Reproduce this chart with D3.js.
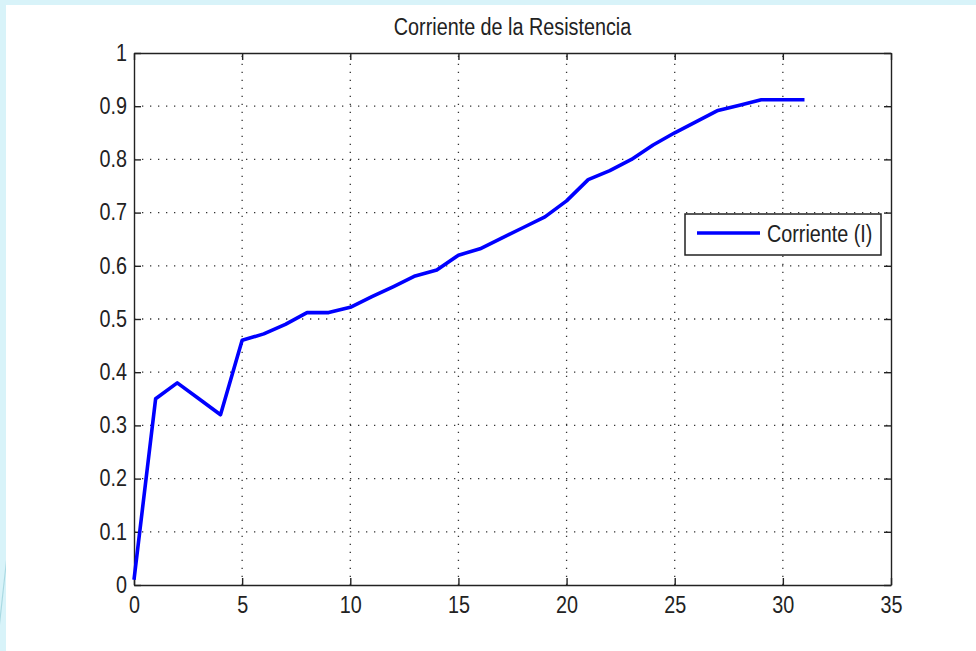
<!DOCTYPE html>
<html>
<head>
<meta charset="utf-8">
<script src="https://cdn.jsdelivr.net/npm/d3@7"></script>
<style>
  body { margin: 0; background: #fff; }
  text { font-family: "Liberation Sans", Arial, sans-serif; fill: #222; transform-box: fill-box; }
  .narrow-c { transform-origin: center; transform: scaleX(0.86); }
  .narrow-r { transform-origin: right center; transform: scaleX(0.86); }
  .narrow-l { transform-origin: left center; transform: scaleX(0.86); }
</style>
</head>
<body>
<script>

// data
var xValues = [0, 1, 2, 3, 4, 5, 6, 7, 8, 9, 10, 11, 12, 13, 14, 15,
               16, 17, 18, 19, 20, 21, 22, 23, 24, 25, 26, 27, 28, 29, 30, 31];
var current = [0.01, 0.35, 0.38, 0.35, 0.32, 0.46, 0.472, 0.49, 0.512, 0.512, 0.522, 0.542, 0.561, 0.581, 0.592, 0.62,
               0.632, 0.652, 0.672, 0.692, 0.722, 0.762, 0.779, 0.80, 0.827, 0.85, 0.871, 0.892, 0.902, 0.912, 0.912, 0.912];
var xTicks = [0, 5, 10, 15, 20, 25, 30, 35];
var yTicks = [0, 0.1, 0.2, 0.3, 0.4, 0.5, 0.6, 0.7, 0.8, 0.9, 1];
var title = "Corriente de la Resistencia";
var seriesName = "Corriente (I)";

var W = 976, H = 651;
var plotL = 134, plotR = 891, plotT = 53, plotB = 585;

var svg = d3.select("body").append("svg")
    .attr("width", W)
    .attr("height", H);

// page background (light cyan frame)
svg.append("rect").attr("width", W).attr("height", H).attr("fill", "#d8f3f9");
svg.append("rect").attr("x", 6).attr("y", 5).attr("width", W - 6).attr("height", H - 5).attr("fill", "#fff");
svg.append("path").attr("d", "M0,614 L6,560 L6,570 L0,625 Z").attr("fill", "#a9d9e2");

var x = d3.scaleLinear().domain([0, 35]).range([plotL, plotR]);
var y = d3.scaleLinear().domain([0, 1]).range([plotB, plotT]);

// dotted grid
var grid = svg.append("g").attr("stroke", "#333").attr("stroke-width", 1.3).attr("stroke-dasharray", "1.3,6.7");
grid.selectAll(".gx").data(xTicks.slice(1, -1)).enter().append("line")
    .attr("x1", function(d) { return x(d); }).attr("x2", function(d) { return x(d); })
    .attr("y1", plotB).attr("y2", plotT);
grid.selectAll(".gy").data(yTicks.slice(1, -1)).enter().append("line")
    .attr("y1", function(d) { return y(d); }).attr("y2", function(d) { return y(d); })
    .attr("x1", plotL).attr("x2", plotR);

// axes, ticks inside like matlab
var fmt = function(d) { return String(+d.toFixed(1)); };

var axB = svg.append("g").attr("transform", "translate(0," + plotB + ")")
    .call(d3.axisBottom(x).tickValues(xTicks).tickSizeInner(-7).tickSizeOuter(0).tickPadding(12).tickFormat(fmt));
var axL = svg.append("g").attr("transform", "translate(" + plotL + ",0)")
    .call(d3.axisLeft(y).tickValues(yTicks).tickSizeInner(-7).tickSizeOuter(0).tickPadding(7).tickFormat(fmt));
var axT = svg.append("g").attr("transform", "translate(0," + plotT + ")")
    .call(d3.axisTop(x).tickValues(xTicks).tickSizeInner(-7).tickSizeOuter(0).tickFormat(""));
var axR = svg.append("g").attr("transform", "translate(" + plotR + ",0)")
    .call(d3.axisRight(y).tickValues(yTicks).tickSizeInner(-7).tickSizeOuter(0).tickFormat(""));

[axB, axL, axT, axR].forEach(function(a) {
  a.attr("font-family", null).attr("font-size", null);
  a.selectAll("path, line").attr("stroke", "#222").attr("stroke-width", 1.4);
  a.selectAll("text").style("font-size", "23px").attr("fill", "#222");
});
axB.selectAll("text").attr("class", "narrow-c");
axL.selectAll("text").attr("class", "narrow-r");

// the series
var line = d3.line()
    .x(function(d, i) { return x(xValues[i]); })
    .y(function(d) { return y(d); });

svg.append("path")
    .attr("d", line(current))
    .attr("fill", "none")
    .attr("stroke", "#0000ff")
    .attr("stroke-width", 3.6)
    .attr("stroke-linejoin", "round");

// title
svg.append("text")
    .attr("class", "narrow-c")
    .attr("x", (plotL + plotR) / 2)
    .attr("y", 35)
    .attr("text-anchor", "middle")
    .style("font-size", "23px")
    .text(title);

// legend
var lg = svg.append("g").attr("transform", "translate(685,214)");
lg.append("rect").attr("width", 196).attr("height", 41)
    .attr("fill", "#fff").attr("stroke", "#222").attr("stroke-width", 1.5);
lg.append("line").attr("x1", 12).attr("x2", 75).attr("y1", 19).attr("y2", 19)
    .attr("stroke", "#0000ff").attr("stroke-width", 3.6);
lg.append("text").attr("class", "narrow-l").attr("x", 82).attr("y", 28).style("font-size", "23px").text(seriesName);

</script>
</body>
</html>
